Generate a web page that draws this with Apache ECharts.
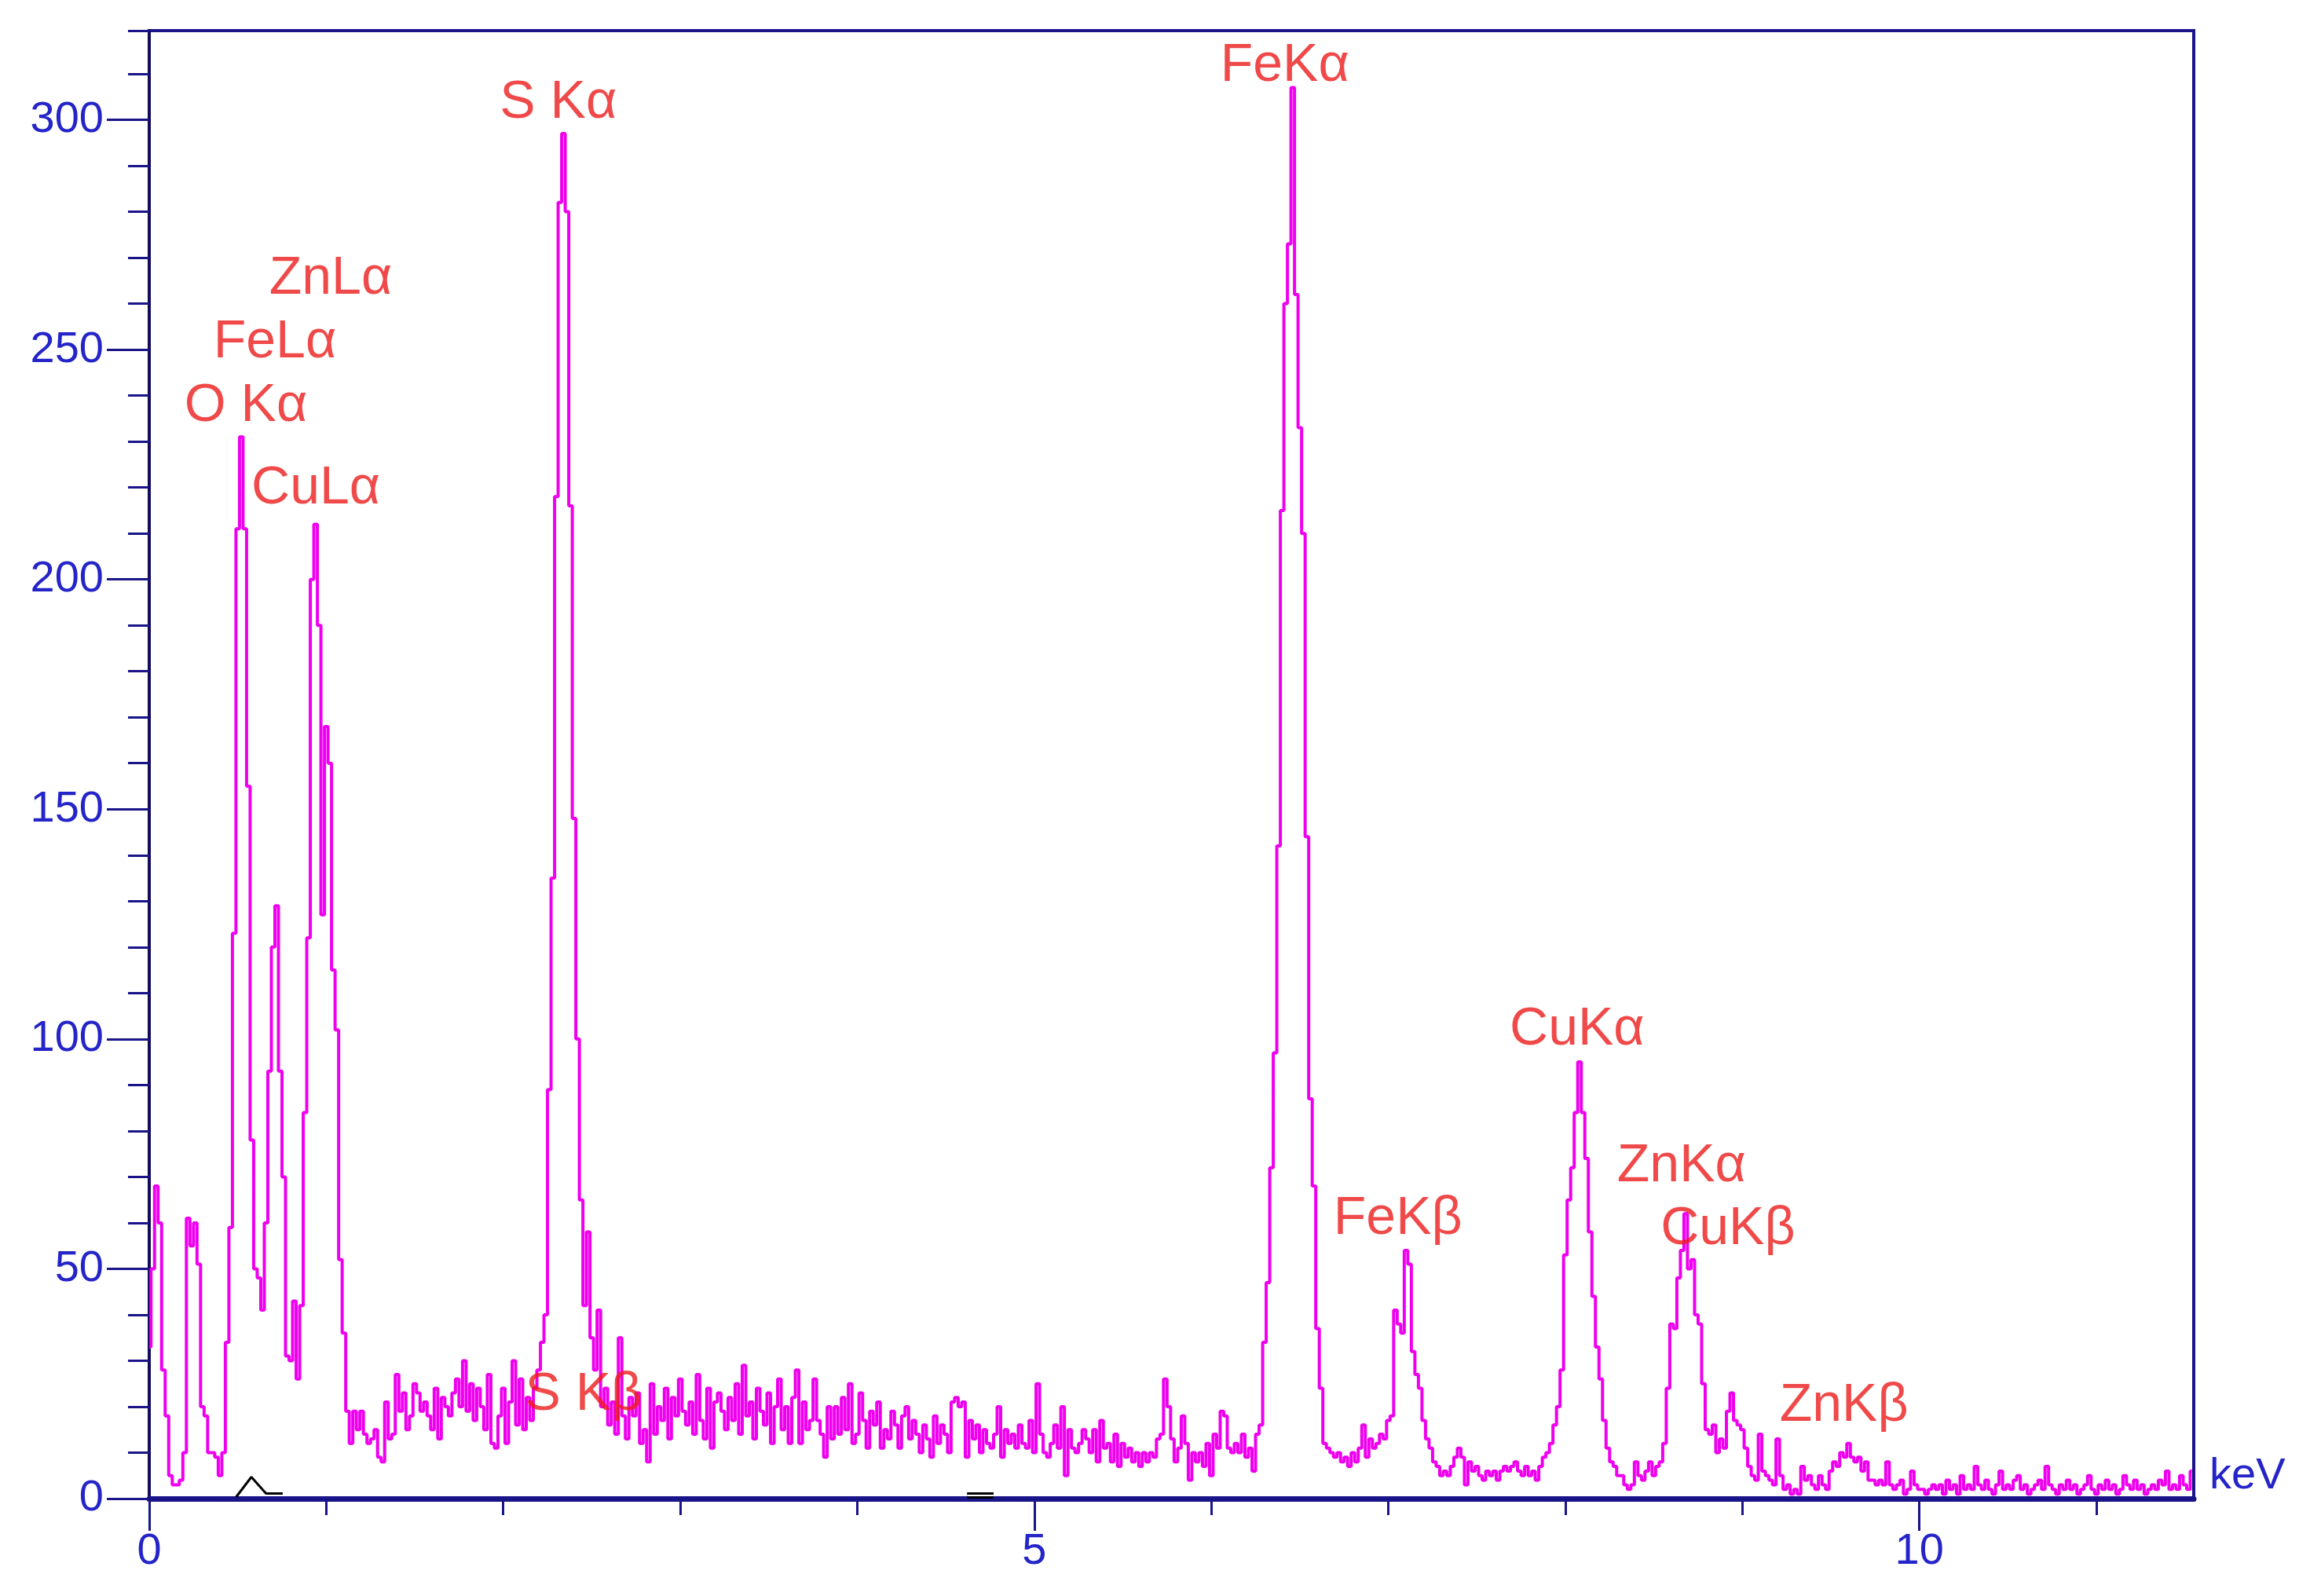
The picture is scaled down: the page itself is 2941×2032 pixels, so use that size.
<!DOCTYPE html>
<html>
<head>
<meta charset="utf-8">
<title>EDS spectrum</title>
<script src="https://cdn.jsdelivr.net/npm/echarts@6/dist/echarts.min.js"></script>
<style>
  html, body { margin: 0; padding: 0; background: #fff; }
  #chart { width: 2941px; height: 2032px; }
</style>
</head>
<body>
<div id="chart"></div>
<script>
// energy of one channel (keV), counts read channel by channel from 0 keV
var channelKeV = 0.02;
var counts = [
  33, 50, 68, 60, 28, 18, 5, 3, 3, 4,            // 0.00
  10, 61, 55, 60, 51, 20, 18, 10, 10, 9,         // 0.20
  5, 10, 34, 59, 123, 211, 231, 211, 155, 78,    // 0.40
  50, 48, 41, 60, 93, 120, 129, 93, 70, 31,      // 0.60
  30, 43, 26, 42, 84, 122, 200, 212, 190, 127,   // 0.80
  168, 160, 115, 102, 52, 36, 19, 12, 19, 15,    // 1.00
  19, 14, 12, 13, 15, 9, 8, 21, 13, 14,          // 1.20
  27, 19, 23, 15, 18, 25, 23, 19, 21, 18,        // 1.40
  15, 24, 13, 22, 20, 18, 23, 26, 20, 30,        // 1.60
  19, 25, 17, 24, 20, 15, 27, 12, 11, 18,        // 1.80
  24, 12, 21, 30, 16, 26, 15, 22, 17, 24,        // 2.00
  28, 34, 40, 89, 135, 218, 282, 297, 280, 216,  // 2.20
  148, 100, 65, 42, 58, 35, 28, 41, 20, 24,      // 2.40
  16, 21, 14, 35, 18, 13, 22, 18, 23, 12,        // 2.60
  15, 8, 25, 14, 20, 17, 24, 13, 22, 18,         // 2.80
  26, 19, 16, 21, 14, 27, 17, 13, 24, 11,        // 3.00
  21, 23, 19, 15, 22, 17, 25, 14, 29, 18,        // 3.20
  21, 13, 24, 19, 16, 23, 12, 20, 26, 15,        // 3.40
  20, 12, 22, 28, 12, 21, 15, 17, 26, 17,        // 3.60
  14, 9, 20, 13, 20, 14, 22, 15, 25, 12,         // 3.80
  14, 23, 17, 11, 19, 16, 21, 11, 15, 13,        // 4.00
  19, 16, 11, 18, 20, 13, 17, 14, 10, 16,        // 4.20
  13, 9, 18, 12, 16, 14, 10, 21, 22, 20,         // 4.40
  21, 9, 17, 13, 16, 10, 15, 12, 11, 14,         // 4.60
  20, 9, 15, 12, 14, 11, 16, 12, 11, 17,         // 4.80
  10, 25, 14, 10, 9, 12, 16, 11, 20, 5,          // 5.00
  15, 11, 10, 12, 15, 13, 10, 15, 8, 17,         // 5.20
  11, 12, 8, 14, 7, 12, 9, 11, 8, 10,            // 5.40
  7, 10, 8, 10, 9, 13, 14, 26, 20, 13,           // 5.60
  8, 11, 18, 12, 4, 10, 8, 10, 7, 12,            // 5.80
  5, 14, 11, 19, 18, 11, 10, 12, 10, 14,         // 6.00
  9, 11, 6, 14, 16, 34, 47, 72, 97, 142,         // 6.20
  215, 260, 273, 307, 262, 233, 210, 144, 87, 68,// 6.40
  37, 24, 12, 11, 10, 9, 10, 8, 9, 7,            // 6.60
  10, 8, 11, 16, 9, 13, 11, 12, 14, 13,          // 6.80
  17, 18, 41, 38, 36, 54, 51, 32, 27, 24,        // 7.00
  17, 13, 11, 8, 7, 5, 6, 5, 7, 9,               // 7.20
  11, 9, 3, 8, 6, 7, 5, 4, 6, 5,                 // 7.40
  6, 4, 6, 7, 6, 7, 8, 6, 5, 7,                  // 7.60
  5, 6, 4, 7, 9, 10, 12, 16, 20, 28,             // 7.80
  53, 65, 72, 84, 95, 84, 74, 58, 44, 33,        // 8.00
  26, 17, 11, 8, 7, 5, 5, 3, 2, 3,               // 8.20
  8, 5, 4, 6, 8, 5, 7, 8, 12, 24,                // 8.40
  38, 37, 48, 54, 62, 50, 52, 40, 38, 25,        // 8.60
  15, 14, 16, 10, 13, 11, 19, 23, 17, 16,        // 8.80
  15, 11, 7, 5, 4, 14, 6, 5, 4, 3,               // 9.00
  13, 5, 2, 3, 1, 2, 1, 7, 4, 5,                 // 9.20
  3, 2, 5, 3, 2, 6, 8, 7, 10, 9,                 // 9.40
  12, 9, 8, 9, 6, 8, 4, 4, 3, 4,                 // 9.60
  3, 8, 3, 2, 3, 4, 1, 2, 6, 3,                  // 9.80
  2, 2, 1, 2, 3, 2, 3, 1, 4, 2,                  // 10.00
  3, 1, 5, 2, 3, 2, 7, 3, 2, 4,                  // 10.20
  2, 1, 3, 6, 2, 3, 2, 4, 5, 2,                  // 10.40
  3, 1, 2, 3, 4, 2, 7, 3, 2, 1,                  // 10.60
  3, 2, 4, 2, 3, 1, 2, 3, 5, 2,                  // 10.80
  1, 3, 2, 4, 2, 3, 1, 2, 5, 3,                  // 11.00
  2, 4, 2, 3, 1, 2, 3, 2, 4, 3,                  // 11.20
  6, 2, 3, 2, 5, 3, 2, 6                         // 11.40
];

// peak labels and where they sit (keV, counts)
var peakNames  = ['O Kα', 'FeLα', 'ZnLα', 'CuLα', 'S Kα', 'S Kβ', 'FeKα', 'FeKβ', 'CuKα', 'ZnKα', 'CuKβ', 'ZnKβ'];
var peakKeV    = [0.546, 0.710, 1.025, 0.941, 2.311, 2.453, 6.415, 7.054, 8.066, 8.656, 8.918, 9.574];
var peakCounts = [237.7, 251.5, 265.4, 219.8, 303.7, 22.6, 311.7, 60.8, 102.0, 72.3, 58.6, 20.2];

// small black markers drawn by the instrument software
var markerKeV    = [0.49, 0.577, 0.66, 0.754];
var markerCounts = [0.3, 4.7, 1.1, 1.1];
var dashKeV      = [4.62, 4.77];
var dashCounts   = [0.7, 0.7];

// axes
var xMax = 11.55;
var yMax = 319.4;
var xMajorTicks = [0, 5, 10];
var xMinorTicks = [1, 2, 3, 4, 6, 7, 8, 9, 11];
var yMajorTicks = [0, 50, 100, 150, 200, 250, 300];
var yMinorTicks = [10, 20, 30, 40, 60, 70, 80, 90, 110, 120, 130, 140, 160, 170, 180, 190,
                   210, 220, 230, 240, 260, 270, 280, 290, 310, 319.4];

var navy = '#1a1489';
var axisBlue = '#2424c8';
var fontFamily = "'Liberation Sans', Arial, sans-serif";

var spectrum = counts.map(function (c, i) { return [i * channelKeV, c]; });
var marker = markerKeV.map(function (x, i) { return [x, markerCounts[i]]; });
var dash = dashKeV.map(function (x, i) { return [x, dashCounts[i]]; });
var peaks = peakNames.map(function (n, i) { return { name: n, value: [peakKeV[i], peakCounts[i]] }; });

var myChart = echarts.init(document.getElementById('chart'));
var option = {
    animation: false,
    backgroundColor: '#fff',
    grid: {
        left: 190, right: 148, top: 39, bottom: 124,
        show: true, borderColor: navy, borderWidth: 4, backgroundColor: '#fff'
    },
    xAxis: [
        {
            type: 'value', position: 'bottom', min: 0, max: xMax,
            name: 'keV', nameLocation: 'end', nameGap: 20,
            nameTextStyle: { color: axisBlue, fontSize: 56, fontFamily: fontFamily, verticalAlign: 'bottom', lineHeight: 56 },
            axisLine: { show: true, onZero: false, lineStyle: { color: navy, width: 7 } },
            axisTick: { show: true, customValues: xMajorTicks, length: 41, lineStyle: { color: navy, width: 3 } },
            axisLabel: { customValues: xMajorTicks, margin: 40, color: axisBlue, fontSize: 56, fontFamily: fontFamily },
            splitLine: { show: false }
        },
        {
            type: 'value', position: 'bottom', min: 0, max: xMax,
            axisLine: { show: false, onZero: false },
            axisTick: { show: true, customValues: xMinorTicks, length: 21, lineStyle: { color: navy, width: 3 } },
            axisLabel: { show: false },
            splitLine: { show: false }
        }
    ],
    yAxis: [
        {
            type: 'value', position: 'left', min: 0, max: yMax,
            axisLine: { show: true, lineStyle: { color: '#120c5a', width: 4 } },
            axisTick: { show: true, customValues: yMajorTicks, length: 54, lineStyle: { color: navy, width: 3 } },
            axisLabel: { customValues: yMajorTicks, margin: 58, color: axisBlue, fontSize: 56, fontFamily: fontFamily },
            splitLine: { show: false }
        },
        {
            type: 'value', position: 'left', min: 0, max: yMax,
            axisLine: { show: false },
            axisTick: { show: true, customValues: yMinorTicks, length: 27, lineStyle: { color: navy, width: 3 } },
            axisLabel: { show: false },
            splitLine: { show: false }
        }
    ],
    series: [
        {
            type: 'line', xAxisIndex: 0, yAxisIndex: 0,
            step: 'middle', showSymbol: false, silent: true,
            data: spectrum,
            lineStyle: { color: '#ee00ee', width: 4 },
            z: 3
        },
        {
            type: 'line', showSymbol: false, silent: true, data: marker,
            lineStyle: { color: '#000', width: 3 }, z: 4
        },
        {
            type: 'line', showSymbol: false, silent: true, data: dash,
            lineStyle: { color: '#000', width: 8 }, z: 4
        },
        {
            type: 'line', showSymbol: false, silent: true, data: dash,
            lineStyle: { color: '#fff', width: 2 }, z: 4
        },
        {
            type: 'scatter', symbolSize: 0, silent: true, data: peaks,
            label: {
                show: true, position: 'inside', formatter: '{b}',
                color: '#ec1c1c', fontSize: 68, fontFamily: fontFamily
            },
            z: 5
        }
    ]
};
window.onresize = myChart.resize;
myChart.setOption(option);
</script>
</body>
</html>
